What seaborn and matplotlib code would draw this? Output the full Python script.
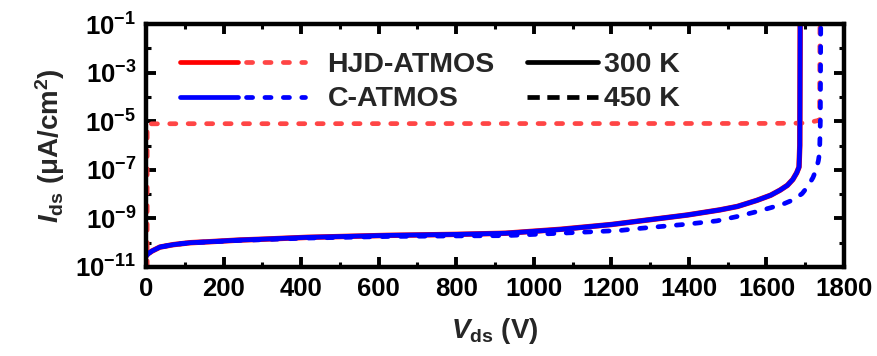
import numpy as np
import pandas as pd
import matplotlib
matplotlib.use("Agg")
import matplotlib.pyplot as plt
import seaborn as sns
from matplotlib.lines import Line2D
from matplotlib.legend_handler import HandlerTuple
from matplotlib.ticker import FixedLocator, FixedFormatter

# ---------------- data ----------------
# HJD-ATMOS, 300 K
v_hjd_300 = [0, 5, 15, 36, 70, 114, 165, 243, 294, 415, 622, 800, 927, 1068, 1200, 1275, 1396, 1480,
             1525, 1575, 1611, 1635, 1654, 1668, 1678, 1684, 1686, 1687]
i_hjd_300 = [2.8e-11, 3.5e-11, 4.5e-11, 6.6e-11, 8.3e-11, 1.0e-10, 1.1e-10, 1.29e-10, 1.38e-10, 1.66e-10,
             2.0e-10, 2.2e-10, 2.45e-10, 3.55e-10, 5.6e-10, 7.9e-10, 1.38e-9, 2.24e-9,
             3.1e-9, 5.5e-9, 9e-9, 1.45e-8, 2.3e-8, 4e-8, 7.5e-8, 1.3e-7, 1e-6, 1e-1]
# HJD-ATMOS, 450 K
v_hjd_450 = [3, 3, 100, 400, 800, 1200, 1600, 1690, 1710, 1725, 1737, 1738]
i_hjd_450 = [1e-11, 7.8e-6, 7.9e-6, 7.9e-6, 8e-6, 8e-6, 8.1e-6, 8.3e-6, 9e-6, 1e-5, 1.1e-5, 1e-1]
# C-ATMOS, 300 K
v_c_300 = [0, 5, 15, 36, 70, 114, 165, 243, 294, 415, 622, 800, 927, 1068, 1200, 1275, 1396, 1480,
           1525, 1575, 1611, 1635, 1654, 1668, 1678, 1684, 1686, 1687]
i_c_300 = [2.8e-11, 3.5e-11, 4.5e-11, 6.6e-11, 8.3e-11, 1.0e-10, 1.1e-10, 1.29e-10, 1.38e-10, 1.66e-10,
           2.0e-10, 2.2e-10, 2.45e-10, 3.5e-10, 5.6e-10, 7.9e-10, 1.38e-9, 2.24e-9,
           3.1e-9, 5.5e-9, 9e-9, 1.45e-8, 2.3e-8, 4e-8, 7.5e-8, 1.3e-7, 1e-6, 1e-1]
# C-ATMOS, 450 K
v_c_450 = [0, 5, 15, 36, 70, 114, 165, 243, 294, 415, 622, 800, 927, 1068, 1224, 1275, 1396, 1472,
           1525, 1575, 1611, 1645, 1671, 1692, 1707, 1720, 1728, 1734, 1737, 1739, 1740]
i_c_450 = [2.8e-11, 3.5e-11, 4.5e-11, 6.6e-11, 8.3e-11, 1.0e-10, 1.08e-10, 1.25e-10, 1.32e-10, 1.55e-10,
           1.8e-10, 1.9e-10, 1.95e-10, 2.45e-10, 3.2e-10, 3.9e-10, 5.8e-10, 7.9e-10,
           1.2e-9, 1.9e-9, 2.75e-9, 4e-9, 6e-9, 1.05e-8, 2.1e-8, 4.8e-8, 1e-7, 2.4e-7, 5e-7, 1e-5, 1e-1]

x_ticks = [0, 200, 400, 600, 800, 1000, 1200, 1400, 1600, 1800]
y_major = [1e-11, 1e-9, 1e-7, 1e-5, 1e-3, 1e-1]
y_minor = [1e-10, 1e-8, 1e-6, 1e-4, 1e-2]
y_labels = [r"$\mathbf{10^{-11}}$", r"$\mathbf{10^{-9}}$", r"$\mathbf{10^{-7}}$",
            r"$\mathbf{10^{-5}}$", r"$\mathbf{10^{-3}}$", r"$\mathbf{10^{-1}}$"]
device_labels = ["HJD-ATMOS", "C-ATMOS"]
temp_labels = ["300 K", "450 K"]

# ---------------- style ----------------
sns.set_theme(style="ticks")
plt.rcParams["font.family"] = ["Liberation Sans", "DejaVu Sans"]
plt.rcParams["font.weight"] = "bold"
plt.rcParams["mathtext.fontset"] = "custom"
plt.rcParams["mathtext.rm"] = "Liberation Sans:bold"
plt.rcParams["mathtext.bf"] = "Liberation Sans:bold"
plt.rcParams["mathtext.it"] = "Liberation Sans:italic:bold"

RED = "#ff0000"
RED_D = "#ff4545"
BLUE = "#0000ff"
LW = 3.4
DASH = (0, (1.3, 2.6))
DASH_K = (0, (2.6, 1.6))

fig = plt.figure(figsize=(8.78, 3.56), dpi=100)
ax = fig.add_axes([146 / 878, 1 - 267 / 356, (844 - 146) / 878, (267 - 24) / 356])

def draw(v, i, color, dashed, lw=LW):
    df = pd.DataFrame({"V": v, "I": i})
    sns.lineplot(data=df, x="V", y="I", sort=False, estimator=None, color=color,
                 lw=lw, ax=ax, legend=False)
    ln = ax.lines[-1]
    ln.set_solid_capstyle("butt")
    ln.set_solid_joinstyle("round")
    if dashed:
        ln.set_linestyle(DASH)
        ln.set_dash_capstyle("round")

draw(v_hjd_300, i_hjd_300, RED, False, lw=LW + 0.5)
draw(v_hjd_450, i_hjd_450, RED_D, True)
draw(v_c_450, i_c_450, BLUE, True)
draw(v_c_300, i_c_300, BLUE, False)

ax.set_yscale("log")
ax.set_xlim(0, 1800)
ax.set_ylim(1e-11, 1e-1)
ax.xaxis.set_major_locator(FixedLocator(x_ticks))
ax.xaxis.set_minor_locator(FixedLocator([t + 100 for t in x_ticks[:-1]]))
ax.yaxis.set_major_locator(FixedLocator(y_major))
ax.yaxis.set_major_formatter(FixedFormatter(y_labels))
ax.yaxis.set_minor_locator(FixedLocator(y_minor))
ax.yaxis.set_minor_formatter(FixedFormatter([""] * len(y_minor)))

for s in ax.spines.values():
    s.set_linewidth(3.2)
    s.set_color("black")
ax.tick_params(which="both", direction="in", top=True, right=True, colors="black")
ax.tick_params(which="major", length=7, width=2.8, labelsize=18.5, pad=7)
ax.tick_params(which="minor", length=3.5, width=2.2)
for lab in ax.get_xticklabels() + ax.get_yticklabels():
    lab.set_fontweight("bold")

ax.set_xlabel(r"$V$$_{\rm ds}$ (V)", fontsize=20, fontweight="bold", labelpad=11)
ax.set_ylabel(r"$I$$_{\rm ds}$ (μA/cm$^{\rm 2}$)", fontsize=20, fontweight="bold", labelpad=6)

# legends
LEG_PROP = {"size": 20.5, "weight": "bold", "family": "Liberation Sans"}
h1 = (Line2D([], [], color=RED, lw=LW), Line2D([], [], color=RED_D, lw=LW, ls=DASH, dash_capstyle="round"))
h2 = (Line2D([], [], color=BLUE, lw=LW), Line2D([], [], color=BLUE, lw=LW, ls=DASH, dash_capstyle="round"))
leg1 = ax.legend([h1, h2], device_labels, handler_map={tuple: HandlerTuple(ndivide=None, pad=0.3)},
                 loc="upper left", bbox_to_anchor=(0.048, 0.885), frameon=False, borderpad=0,
                 borderaxespad=0, handlelength=4.4, handletextpad=0.8, labelspacing=0.3,
                 prop=LEG_PROP)
ax.add_artist(leg1)
hk1 = Line2D([], [], color="black", lw=LW)
hk2 = Line2D([], [], color="black", lw=LW, ls=DASH_K, dash_capstyle="butt")
ax.legend([hk1, hk2], temp_labels, loc="upper left", bbox_to_anchor=(0.546, 0.885), frameon=False,
          borderpad=0, borderaxespad=0, handlelength=2.5, handletextpad=0.2, labelspacing=0.3,
          prop=LEG_PROP)

fig.savefig("out.png", dpi=100)
